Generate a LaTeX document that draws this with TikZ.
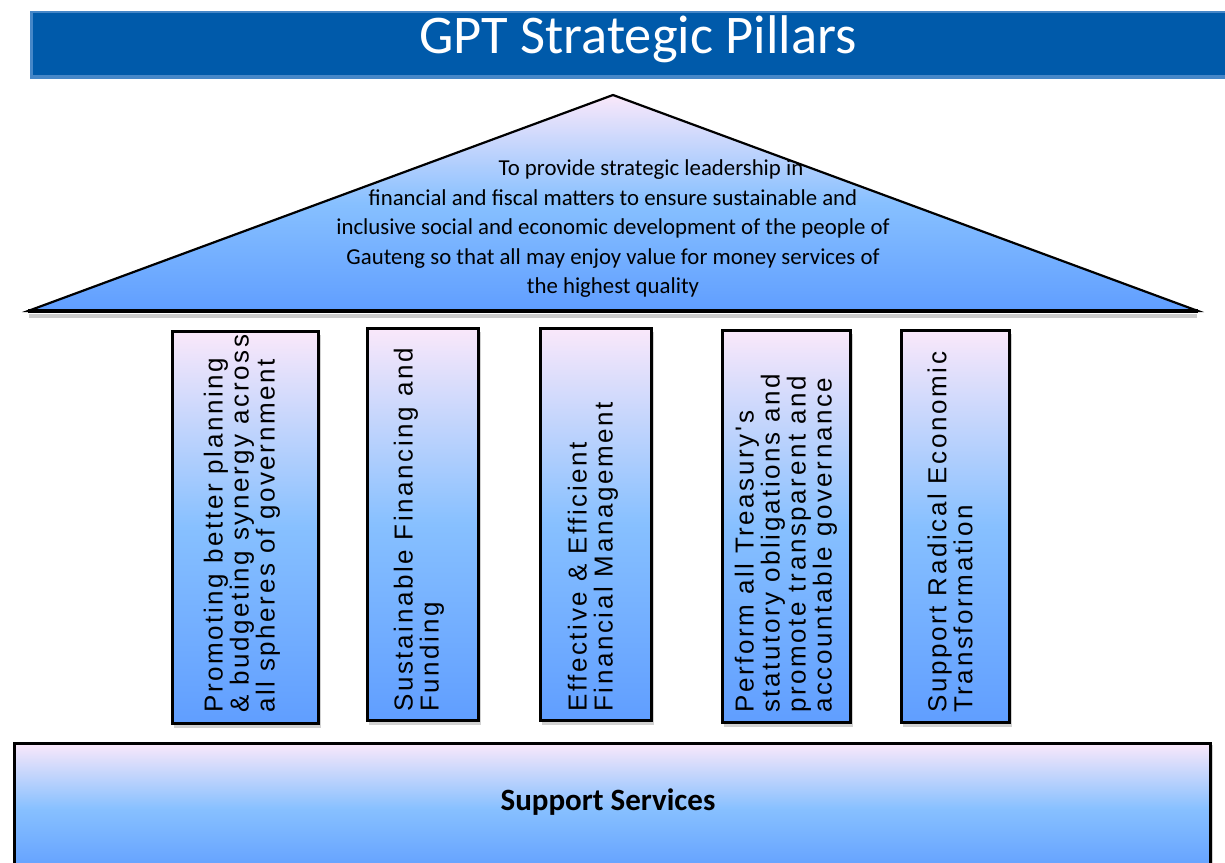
\documentclass[tikz,border=0pt]{standalone}
\usepackage{fontspec}
\setmainfont{Carlito}
\newfontfamily\pillarfont[LetterSpace=10]{Liberation Sans}
\definecolor{titleblue}{RGB}{0,90,170}
\definecolor{titleedge}{RGB}{70,135,200}
\definecolor{gtop}{RGB}{250,232,250}
\definecolor{gmid}{RGB}{135,192,255}
\definecolor{gbot}{RGB}{96,158,255}
\tikzset{
  grad/.style={top color=gtop, bottom color=gbot, middle color=gmid},
  pillarbox/.style={grad, draw=black, line width=3pt},
  pshadow/.style={fill=black!18, draw=none},
  pillartext/.style={rotate=90, anchor=west, align=left, inner sep=0pt,
    font=\pillarfont\fontsize{26}{26}\selectfont, text=black},
}
\begin{document}
\begin{tikzpicture}[x=1pt,y=-1pt]
\useasboundingbox (0,0) rectangle (1225,862);
% title bar
\fill[titleedge] (30,11) rectangle (1225,79);
\fill[titleblue] (33,13) rectangle (1225,75);
\node[anchor=base, text=white, inner sep=0pt, font=\fontsize{54.5}{54.5}\selectfont] (title) at (638,53.5) {GPT Strategic Pillars};
% roof
\coordinate (apex) at (613,95);
\coordinate (bl) at (28,311);
\coordinate (br) at (1198,311);
\draw[black!20, line width=4pt] (29,316) -- (1197,316);
\shade[grad] (apex) -- (bl) -- (br) -- cycle;
\draw[black, line width=2.2pt, line join=miter] (apex) -- (bl) -- (br) -- cycle;
\draw[black, line width=3.5pt] (bl) -- (br);
\node[align=center, inner sep=0pt, font=\fontsize{22.8}{29.5}\selectfont] (mission) at (613,229)
 {\hspace*{76pt}To provide strategic leadership in\\
  financial and fiscal matters to ensure sustainable and\\
  inclusive social and economic development of the people of\\
  Gauteng so that all may enjoy value for money services of\\
  the highest quality};
% pillars
\foreach \xa/\ya/\xb/\yb in {172/331/318/723, 367/328/478/720, 540/328/651/720, 722/330/850/722, 901/330/1009/722}{
  \fill[pshadow] (\xa+2,\ya+4) rectangle (\xb+3,\yb+5);
}
\draw[pillarbox] (172,331) rectangle (318,723);
\draw[pillarbox] (367,328) rectangle (478,720);
\draw[pillarbox] (540,328) rectangle (651,720);
\draw[pillarbox] (722,330) rectangle (850,722);
\draw[pillarbox] (901,330) rectangle (1009,722);
\node[pillartext] (p1) at (242,713) {Promoting better planning\\ \& budgeting synergy across\\ all spheres of government};
\node[pillartext] (p2) at (419,712) {Sustainable Financing and\\ Funding};
\node[pillartext] (p3) at (593,712) {Effective \& Efficient\\ Financial Management};
\node[pillartext] (p4) at (786,713) {Perform all Treasury's\\ statutory obligations and\\ promote transparent and\\ accountable governance};
\node[pillartext] (p5) at (950,713) {Support Radical Economic\\ Transformation};
% base
\fill[pshadow] (16,745) rectangle (1213,870);
\draw[pillarbox] (14,743) rectangle (1210,875);
\node[font=\bfseries\fontsize{31}{31}\selectfont, inner sep=0pt] (support) at (608,802) {Support Services};
\end{tikzpicture}
\end{document}
